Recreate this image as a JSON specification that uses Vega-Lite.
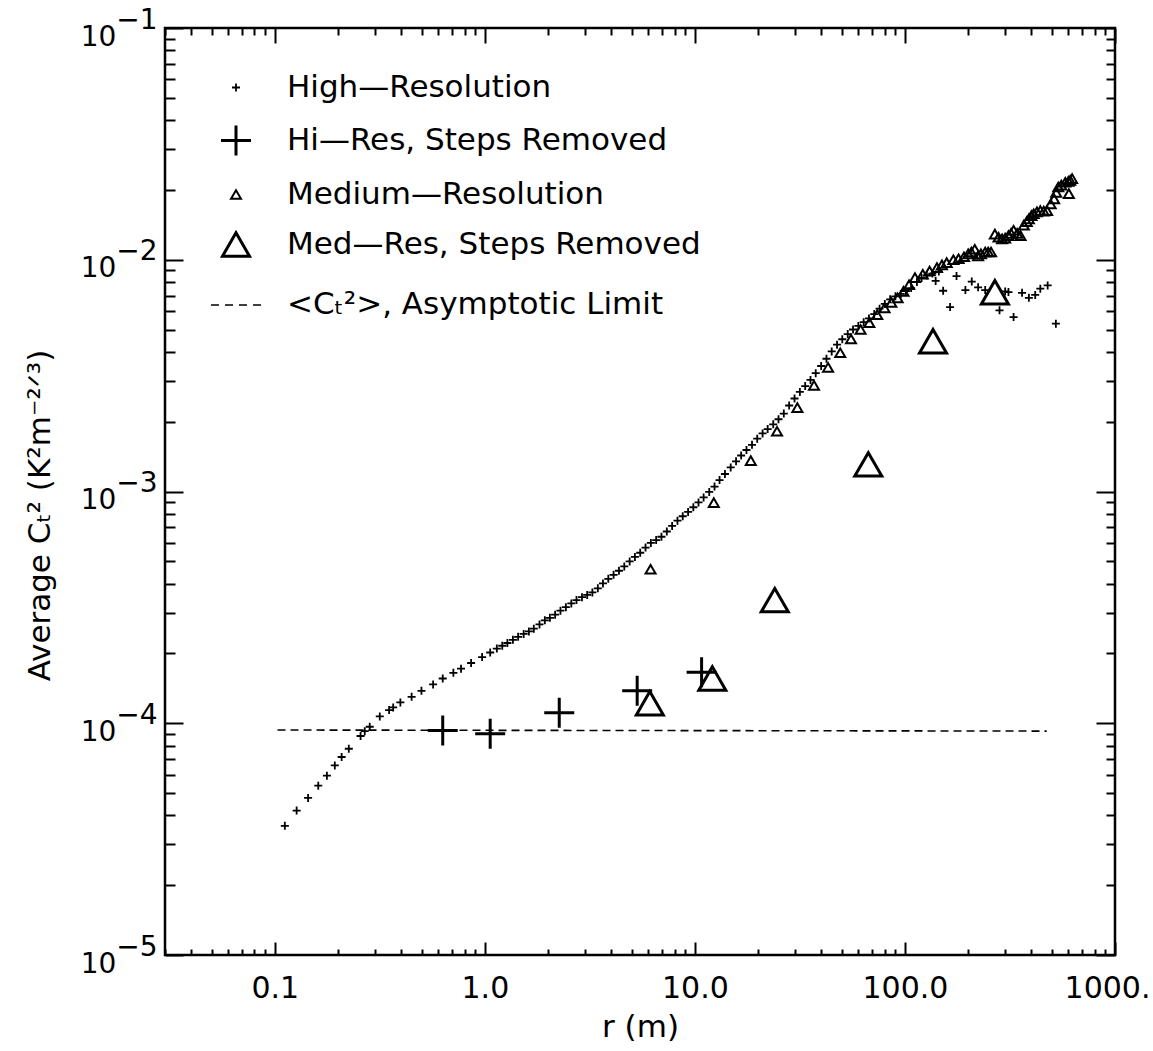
{
  "$schema": "https://vega.github.io/schema/vega-lite/v6.json",
  "width": 950,
  "height": 927,
  "autosize": {"type": "none"},
  "padding": {"left": 165, "top": 28, "right": 38, "bottom": 96},
  "background": "white",
  "config": {
    "font": "DejaVu Sans",
    "view": {"stroke": "black", "strokeWidth": 2.5},
    "axis": {"domain": false, "grid": false, "tickColor": "black", "tickWidth": 2, "labelColor": "black", "titleColor": "black", "labelFont": "DejaVu Sans", "titleFont": "DejaVu Sans", "titleFontWeight": "normal", "labelOverlap": false, "labelFlush": false, "labelBound": false}
  },
  "datasets": {
    "asym": [
      {"r": 0.103, "c": 9.35e-5},
      {"r": 473, "c": 9.25e-5}
    ],
    "pts": [
      {"r": 0.1116, "c": 3.61e-5, "s": "H"},
      {"r": 0.127, "c": 4.2e-5, "s": "H"},
      {"r": 0.144, "c": 4.76e-5, "s": "H"},
      {"r": 0.161, "c": 5.38e-5, "s": "H"},
      {"r": 0.177, "c": 5.94e-5, "s": "H"},
      {"r": 0.193, "c": 6.58e-5, "s": "H"},
      {"r": 0.208, "c": 7.15e-5, "s": "H"},
      {"r": 0.225, "c": 7.76e-5, "s": "H"},
      {"r": 0.256, "c": 8.81e-5, "s": "H"},
      {"r": 0.268, "c": 9.24e-5, "s": "H"},
      {"r": 0.283, "c": 9.66e-5, "s": "H"},
      {"r": 0.316, "c": 1.07e-4, "s": "H"},
      {"r": 0.35, "c": 1.14e-4, "s": "H"},
      {"r": 0.366, "c": 1.17e-4, "s": "H"},
      {"r": 0.396, "c": 1.23e-4, "s": "H"},
      {"r": 0.448, "c": 1.30e-4, "s": "H"},
      {"r": 0.499, "c": 1.38e-4, "s": "H"},
      {"r": 0.567, "c": 1.47e-4, "s": "H"},
      {"r": 0.63, "c": 1.56e-4, "s": "H"},
      {"r": 0.708, "c": 1.65e-4, "s": "H"},
      {"r": 0.77, "c": 1.72e-4, "s": "H"},
      {"r": 0.86, "c": 1.82e-4, "s": "H"},
      {"r": 0.97, "c": 1.93e-4, "s": "H"},
      {"r": 1.06, "c": 2.02e-4, "s": "H"},
      {"r": 1.14, "c": 2.10e-4, "s": "H"},
      {"r": 1.21, "c": 2.16e-4, "s": "H"},
      {"r": 1.28, "c": 2.22e-4, "s": "H"},
      {"r": 1.36, "c": 2.29e-4, "s": "H"},
      {"r": 1.44, "c": 2.36e-4, "s": "H"},
      {"r": 1.53, "c": 2.43e-4, "s": "H"},
      {"r": 1.62, "c": 2.49e-4, "s": "H"},
      {"r": 1.71, "c": 2.56e-4, "s": "H"},
      {"r": 1.82, "c": 2.67e-4, "s": "H"},
      {"r": 1.93, "c": 2.78e-4, "s": "H"},
      {"r": 2.04, "c": 2.85e-4, "s": "H"},
      {"r": 2.16, "c": 2.94e-4, "s": "H"},
      {"r": 2.29, "c": 3.06e-4, "s": "H"},
      {"r": 2.43, "c": 3.17e-4, "s": "H"},
      {"r": 2.58, "c": 3.29e-4, "s": "H"},
      {"r": 2.73, "c": 3.40e-4, "s": "H"},
      {"r": 2.90, "c": 3.50e-4, "s": "H"},
      {"r": 3.07, "c": 3.58e-4, "s": "H"},
      {"r": 3.25, "c": 3.67e-4, "s": "H"},
      {"r": 3.45, "c": 3.82e-4, "s": "H"},
      {"r": 3.65, "c": 4.01e-4, "s": "H"},
      {"r": 3.87, "c": 4.20e-4, "s": "H"},
      {"r": 4.10, "c": 4.37e-4, "s": "H"},
      {"r": 4.35, "c": 4.55e-4, "s": "H"},
      {"r": 4.61, "c": 4.75e-4, "s": "H"},
      {"r": 4.89, "c": 4.99e-4, "s": "H"},
      {"r": 5.18, "c": 5.22e-4, "s": "H"},
      {"r": 5.49, "c": 5.44e-4, "s": "H"},
      {"r": 5.82, "c": 5.73e-4, "s": "H"},
      {"r": 6.17, "c": 6.00e-4, "s": "H"},
      {"r": 6.54, "c": 6.17e-4, "s": "H"},
      {"r": 6.93, "c": 6.38e-4, "s": "H"},
      {"r": 7.35, "c": 6.72e-4, "s": "H"},
      {"r": 7.79, "c": 7.10e-4, "s": "H"},
      {"r": 8.26, "c": 7.48e-4, "s": "H"},
      {"r": 8.75, "c": 7.82e-4, "s": "H"},
      {"r": 9.28, "c": 8.16e-4, "s": "H"},
      {"r": 9.83, "c": 8.55e-4, "s": "H"},
      {"r": 10.4, "c": 8.97e-4, "s": "H"},
      {"r": 11.0, "c": 9.43e-4, "s": "H"},
      {"r": 11.7, "c": 9.96e-4, "s": "H"},
      {"r": 12.4, "c": 1.05e-3, "s": "H"},
      {"r": 13.1, "c": 1.12e-3, "s": "H"},
      {"r": 13.9, "c": 1.19e-3, "s": "H"},
      {"r": 14.8, "c": 1.27e-3, "s": "H"},
      {"r": 15.7, "c": 1.35e-3, "s": "H"},
      {"r": 16.6, "c": 1.43e-3, "s": "H"},
      {"r": 17.6, "c": 1.51e-3, "s": "H"},
      {"r": 18.7, "c": 1.59e-3, "s": "H"},
      {"r": 19.8, "c": 1.69e-3, "s": "H"},
      {"r": 21.0, "c": 1.78e-3, "s": "H"},
      {"r": 22.2, "c": 1.86e-3, "s": "H"},
      {"r": 23.6, "c": 1.95e-3, "s": "H"},
      {"r": 25.0, "c": 2.05e-3, "s": "H"},
      {"r": 26.5, "c": 2.17e-3, "s": "H"},
      {"r": 28.1, "c": 2.35e-3, "s": "H"},
      {"r": 29.8, "c": 2.52e-3, "s": "H"},
      {"r": 31.6, "c": 2.69e-3, "s": "H"},
      {"r": 33.5, "c": 2.85e-3, "s": "H"},
      {"r": 35.5, "c": 3.03e-3, "s": "H"},
      {"r": 37.6, "c": 3.24e-3, "s": "H"},
      {"r": 39.9, "c": 3.48e-3, "s": "H"},
      {"r": 42.3, "c": 3.74e-3, "s": "H"},
      {"r": 44.8, "c": 4.02e-3, "s": "H"},
      {"r": 47.5, "c": 4.30e-3, "s": "H"},
      {"r": 50.3, "c": 4.54e-3, "s": "H"},
      {"r": 53.4, "c": 4.78e-3, "s": "H"},
      {"r": 56.6, "c": 5.0e-3, "s": "H"},
      {"r": 60.0, "c": 5.18e-3, "s": "H"},
      {"r": 63.6, "c": 5.38e-3, "s": "H"},
      {"r": 67.4, "c": 5.58e-3, "s": "H"},
      {"r": 71.4, "c": 5.83e-3, "s": "H"},
      {"r": 75.7, "c": 6.15e-3, "s": "H"},
      {"r": 80.2, "c": 6.45e-3, "s": "H"},
      {"r": 85.0, "c": 6.75e-3, "s": "H"},
      {"r": 90.1, "c": 6.95e-3, "s": "H"},
      {"r": 95.5, "c": 7.12e-3, "s": "H"},
      {"r": 101, "c": 7.33e-3, "s": "H"},
      {"r": 107, "c": 7.55e-3, "s": "H"},
      {"r": 114, "c": 8.02e-3, "s": "H"},
      {"r": 120, "c": 8.35e-3, "s": "H"},
      {"r": 127, "c": 8.55e-3, "s": "H"},
      {"r": 135, "c": 8.72e-3, "s": "H"},
      {"r": 140, "c": 8.1e-3, "s": "H"},
      {"r": 145, "c": 8.9e-3, "s": "H"},
      {"r": 152, "c": 7.35e-3, "s": "H"},
      {"r": 164, "c": 6.25e-3, "s": "H"},
      {"r": 176, "c": 8.5e-3, "s": "H"},
      {"r": 194, "c": 7.4e-3, "s": "H"},
      {"r": 208, "c": 8.05e-3, "s": "H"},
      {"r": 223, "c": 7.6e-3, "s": "H"},
      {"r": 241, "c": 7.4e-3, "s": "H"},
      {"r": 282, "c": 6.05e-3, "s": "H"},
      {"r": 300, "c": 7.3e-3, "s": "H"},
      {"r": 311, "c": 7.25e-3, "s": "H"},
      {"r": 329, "c": 5.66e-3, "s": "H"},
      {"r": 361, "c": 7.2e-3, "s": "H"},
      {"r": 389, "c": 6.85e-3, "s": "H"},
      {"r": 417, "c": 7.05e-3, "s": "H"},
      {"r": 441, "c": 7.5e-3, "s": "H"},
      {"r": 478, "c": 7.75e-3, "s": "H"},
      {"r": 523, "c": 5.3e-3, "s": "H"},
      {"r": 0.63, "c": 9.3e-5, "s": "HS"},
      {"r": 1.06, "c": 9.0e-5, "s": "HS"},
      {"r": 2.26, "c": 1.11e-4, "s": "HS"},
      {"r": 5.31, "c": 1.38e-4, "s": "HS"},
      {"r": 10.76, "c": 1.66e-4, "s": "HS"},
      {"r": 6.15, "c": 4.62e-4, "s": "M"},
      {"r": 12.3, "c": 8.95e-4, "s": "M"},
      {"r": 18.45, "c": 1.36e-3, "s": "M"},
      {"r": 24.6, "c": 1.82e-3, "s": "M"},
      {"r": 30.75, "c": 2.30e-3, "s": "M"},
      {"r": 36.9, "c": 2.87e-3, "s": "M"},
      {"r": 43.05, "c": 3.43e-3, "s": "M"},
      {"r": 49.2, "c": 3.97e-3, "s": "M"},
      {"r": 55.35, "c": 4.55e-3, "s": "M"},
      {"r": 61.5, "c": 5.0e-3, "s": "M"},
      {"r": 67.65, "c": 5.35e-3, "s": "M"},
      {"r": 73.8, "c": 5.8e-3, "s": "M"},
      {"r": 79.95, "c": 6.2e-3, "s": "M"},
      {"r": 86.1, "c": 6.55e-3, "s": "M"},
      {"r": 92.25, "c": 6.85e-3, "s": "M"},
      {"r": 98.4, "c": 7.3e-3, "s": "M"},
      {"r": 104.6, "c": 7.8e-3, "s": "M"},
      {"r": 111.6, "c": 8.37e-3, "s": "M"},
      {"r": 121.6, "c": 8.66e-3, "s": "M"},
      {"r": 131, "c": 8.94e-3, "s": "M"},
      {"r": 142, "c": 9.25e-3, "s": "M"},
      {"r": 150, "c": 9.5e-3, "s": "M"},
      {"r": 158, "c": 9.72e-3, "s": "M"},
      {"r": 170, "c": 1.0e-2, "s": "M"},
      {"r": 180, "c": 1.01e-2, "s": "M"},
      {"r": 191, "c": 1.03e-2, "s": "M"},
      {"r": 200, "c": 1.06e-2, "s": "M"},
      {"r": 207, "c": 1.08e-2, "s": "M"},
      {"r": 215, "c": 1.11e-2, "s": "M"},
      {"r": 223, "c": 1.04e-2, "s": "M"},
      {"r": 230, "c": 1.06e-2, "s": "M"},
      {"r": 241, "c": 1.08e-2, "s": "M"},
      {"r": 249, "c": 1.08e-2, "s": "M"},
      {"r": 257, "c": 1.08e-2, "s": "M"},
      {"r": 268, "c": 1.29e-2, "s": "M"},
      {"r": 279, "c": 1.25e-2, "s": "M"},
      {"r": 290, "c": 1.23e-2, "s": "M"},
      {"r": 300, "c": 1.24e-2, "s": "M"},
      {"r": 311, "c": 1.27e-2, "s": "M"},
      {"r": 320, "c": 1.30e-2, "s": "M"},
      {"r": 329, "c": 1.34e-2, "s": "M"},
      {"r": 342, "c": 1.30e-2, "s": "M"},
      {"r": 355, "c": 1.27e-2, "s": "M"},
      {"r": 368, "c": 1.41e-2, "s": "M"},
      {"r": 380, "c": 1.46e-2, "s": "M"},
      {"r": 389, "c": 1.50e-2, "s": "M"},
      {"r": 400, "c": 1.55e-2, "s": "M"},
      {"r": 410, "c": 1.58e-2, "s": "M"},
      {"r": 425, "c": 1.61e-2, "s": "M"},
      {"r": 441, "c": 1.63e-2, "s": "M"},
      {"r": 458, "c": 1.62e-2, "s": "M"},
      {"r": 475, "c": 1.63e-2, "s": "M"},
      {"r": 494, "c": 1.74e-2, "s": "M"},
      {"r": 513, "c": 1.83e-2, "s": "M"},
      {"r": 525, "c": 1.95e-2, "s": "M"},
      {"r": 537, "c": 2.06e-2, "s": "M"},
      {"r": 555, "c": 2.10e-2, "s": "M"},
      {"r": 580, "c": 2.16e-2, "s": "M"},
      {"r": 600, "c": 2.18e-2, "s": "M"},
      {"r": 603, "c": 1.93e-2, "s": "M"},
      {"r": 612, "c": 2.20e-2, "s": "M"},
      {"r": 625, "c": 2.24e-2, "s": "M"},
      {"r": 6.1, "c": 1.22e-4, "s": "MS"},
      {"r": 12.1, "c": 1.56e-4, "s": "MS"},
      {"r": 24.0, "c": 3.4e-4, "s": "MS"},
      {"r": 66.9, "c": 1.31e-3, "s": "MS"},
      {"r": 136, "c": 4.45e-3, "s": "MS"},
      {"r": 268, "c": 7.24e-3, "s": "MS"}
    ]
  },
  "layer": [
    {
      "data": {"name": "asym"},
      "mark": {"type": "line", "color": "black", "strokeWidth": 1.6, "strokeDash": [8, 5]},
      "encoding": {
        "x": {
          "field": "r", "type": "quantitative",
          "scale": {"type": "log", "domain": [0.03, 1000], "nice": false},
          "title": "r (m)",
          "axis": {
            "orient": "bottom",
            "values": [0.03,0.04,0.05,0.06,0.07,0.08,0.09,0.1,0.2,0.3,0.4,0.5,0.6,0.7,0.8,0.9,1,2,3,4,5,6,7,8,9,10,20,30,40,50,60,70,80,90,100,200,300,400,500,600,700,800,900,1000],
            "labelExpr": "datum.value==0.1?'0.1':datum.value==1?'1.0':datum.value==10?'10.0':datum.value==100?'100.0':datum.value==1000?'1000.':''",
            "tickSize": {"condition": {"test": "abs(log(datum.value)/LN10 - round(log(datum.value)/LN10)) < 0.001", "value": -13}, "value": -6},
            "labelFontSize": 30,
            "labelPadding": 31,
            "labelFlush": true,
            "labelFlushOffset": 35,
            "titleFontSize": 31,
            "titlePadding": 2
          }
        },
        "y": {
          "field": "c", "type": "quantitative",
          "scale": {"type": "log", "domain": [0.00001, 0.1], "nice": false},
          "title": "Average Cₜ² (K²m⁻²ᐟ³)",
          "axis": {
            "orient": "left",
            "values": [0.00001,0.00002,0.00003,0.00004,0.00005,0.00006,0.00007,0.00008,0.00009,0.0001,0.0002,0.0003,0.0004,0.0005,0.0006,0.0007,0.0008,0.0009,0.001,0.002,0.003,0.004,0.005,0.006,0.007,0.008,0.009,0.01,0.02,0.03,0.04,0.05,0.06,0.07,0.08,0.09,0.1],
            "labelExpr": "datum.value==0.1?['−1','10\u2007\u2007\u2009\u200B']:datum.value==0.01?['−2','10\u2007\u2007\u2009\u200B']:datum.value==0.001?['−3','10\u2007\u2007\u2009\u200B']:datum.value==0.0001?['−4','10\u2007\u2007\u2009\u200B']:datum.value==0.00001?['−5','10\u2007\u2007\u2009\u200B']:''",
            "tickSize": {"condition": {"test": "abs(log(datum.value)/LN10 - round(log(datum.value)/LN10)) < 0.001", "value": -18}, "value": -10},
            "labelFontSize": 28,
            "labelLineHeight": 17,
            "labelAlign": "right",
            "labelBaseline": "middle",
            "labelOffset": -8,
            "labelPadding": 26,
            "titleFontSize": 31,
            "titlePadding": 24,
            "titleY": 487
          }
        }
      }
    },
    {
      "data": {"name": "pts"},
      "mark": {"type": "point", "filled": false, "color": "black", "opacity": 1},
      "encoding": {
        "x": {"field": "r", "type": "quantitative", "axis": null},
        "y": {"field": "c", "type": "quantitative", "axis": null},
        "shape": {
          "field": "s", "type": "nominal",
          "scale": {"domain": ["H", "HS", "M", "MS", "A"], "range": ["M-1,0L1,0M0,-1L0,1", "M-1,0L1,0M0,-1L0,1", "triangle-up", "triangle-up", "M-1,0L-0.68,0M-0.44,0L-0.12,0M0.12,0L0.44,0M0.68,0L1,0"]},
          "legend": {
            "orient": "none", "legendX": 45, "legendY": 44, "title": null,
            "labelFontSize": 31, "labelFont": "DejaVu Sans", "labelColor": "black",
            "labelOffset": 25, "rowPadding": 16, "labelLimit": 0,
            "symbolStrokeColor": "black",
            "labelExpr": "datum.value=='H'?'High—Resolution':datum.value=='HS'?'Hi—Res, Steps Removed':datum.value=='M'?'Medium—Resolution':datum.value=='MS'?'Med—Res, Steps Removed':'<Cₜ²>, Asymptotic Limit'"
          }
        },
        "size": {
          "field": "s", "type": "nominal",
          "scale": {"type": "ordinal", "domain": ["H", "HS", "M", "MS", "A"], "range": [64, 900, 100, 729, 2500]}
        },
        "strokeWidth": {
          "field": "s", "type": "nominal",
          "scale": {"type": "ordinal", "domain": ["H", "HS", "M", "MS", "A"], "range": [1.8, 3, 2, 3, 1.6]}
        }
      }
    },
    {
      "data": {"name": "asym"},
      "mark": {"type": "point", "opacity": 0},
      "encoding": {
        "x": {
          "field": "r", "type": "quantitative",
          "axis": {
            "orient": "top", "title": null, "labels": false,
            "values": [0.03,0.04,0.05,0.06,0.07,0.08,0.09,0.1,0.2,0.3,0.4,0.5,0.6,0.7,0.8,0.9,1,2,3,4,5,6,7,8,9,10,20,30,40,50,60,70,80,90,100,200,300,400,500,600,700,800,900,1000],
            "tickSize": {"condition": {"test": "abs(log(datum.value)/LN10 - round(log(datum.value)/LN10)) < 0.001", "value": -15}, "value": -7}
          }
        },
        "y": {
          "field": "c", "type": "quantitative",
          "axis": {
            "orient": "right", "title": null, "labels": false,
            "values": [0.00001,0.00002,0.00003,0.00004,0.00005,0.00006,0.00007,0.00008,0.00009,0.0001,0.0002,0.0003,0.0004,0.0005,0.0006,0.0007,0.0008,0.0009,0.001,0.002,0.003,0.004,0.005,0.006,0.007,0.008,0.009,0.01,0.02,0.03,0.04,0.05,0.06,0.07,0.08,0.09,0.1],
            "tickSize": {"condition": {"test": "abs(log(datum.value)/LN10 - round(log(datum.value)/LN10)) < 0.001", "value": -19}, "value": -9}
          }
        }
      }
    }
  ],
  "resolve": {"axis": {"x": "independent", "y": "independent"}}
}
